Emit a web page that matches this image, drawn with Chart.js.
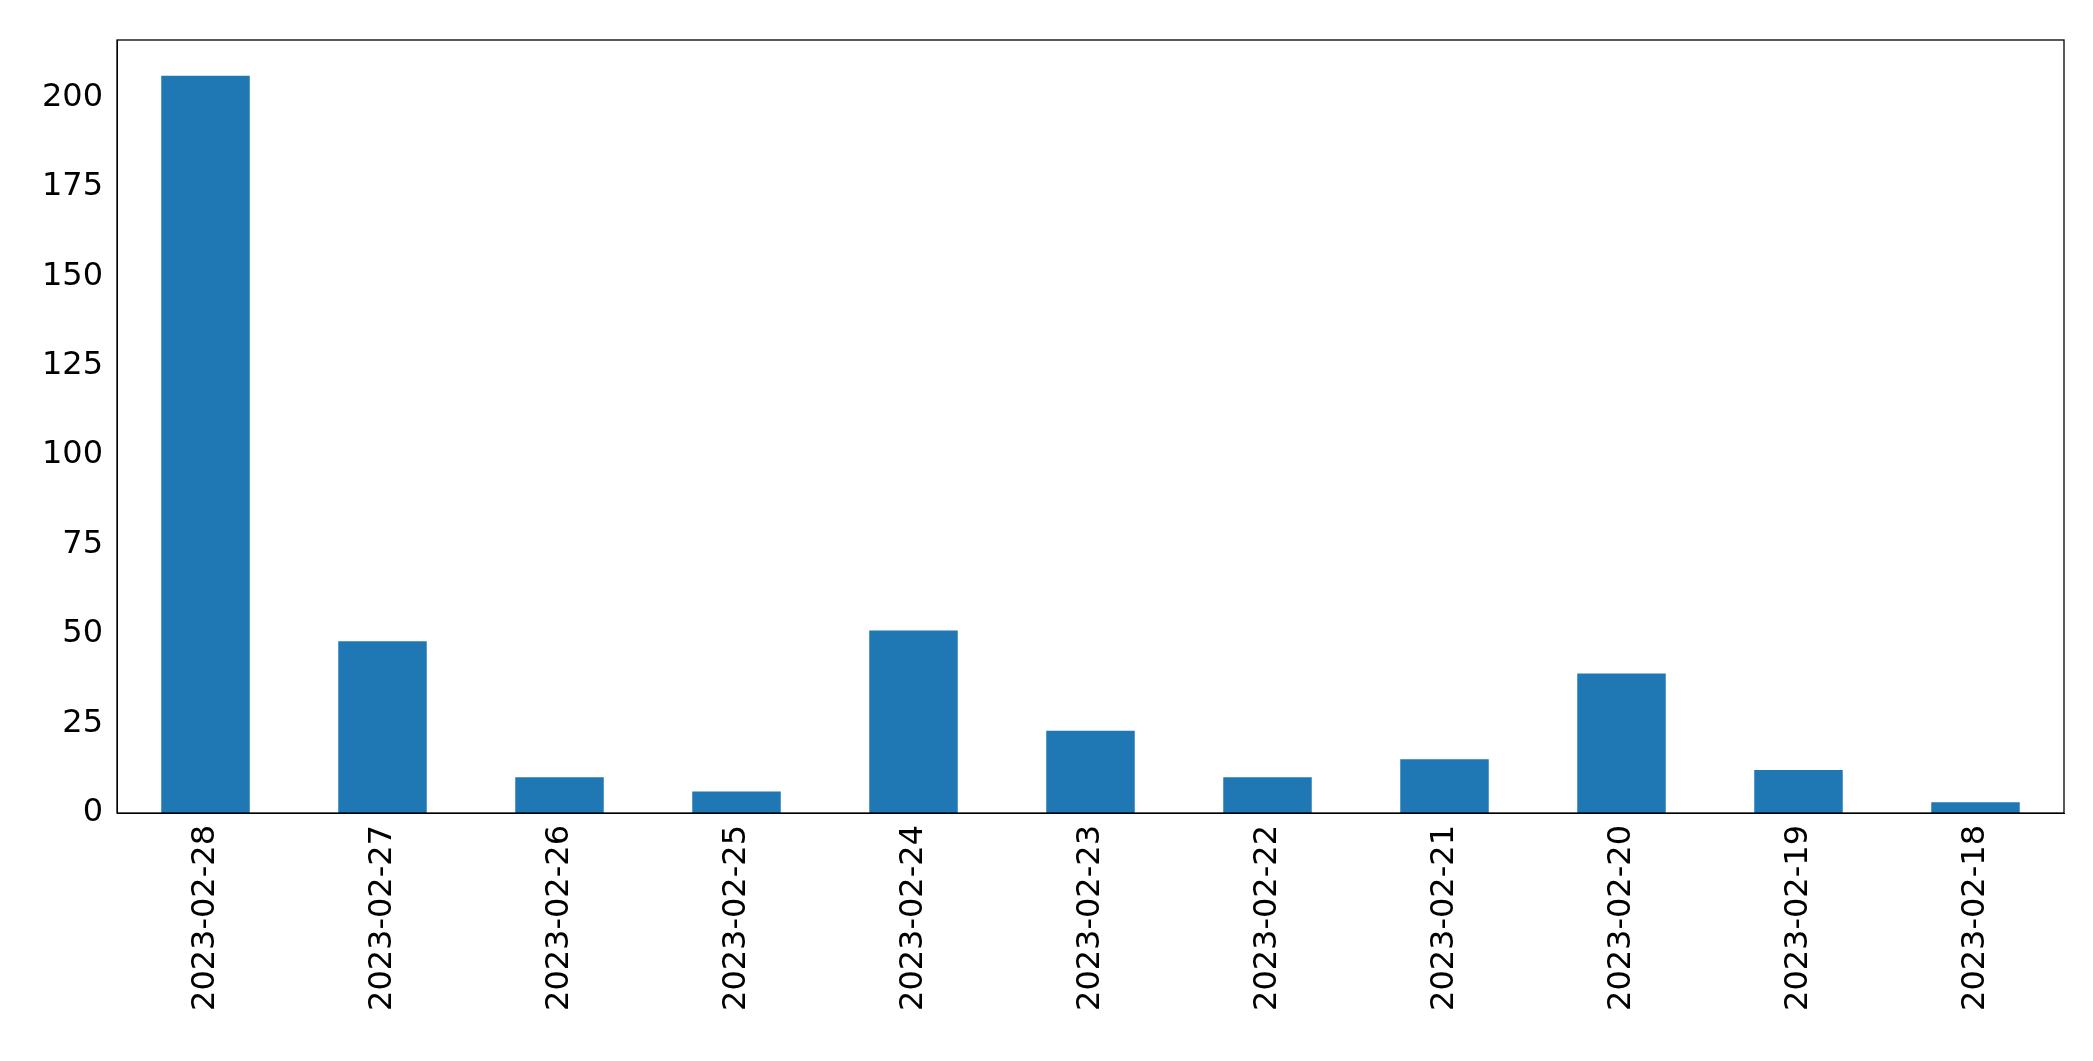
<!DOCTYPE html>
<html><head><meta charset="utf-8">
<script src="https://cdn.jsdelivr.net/npm/chart.js@4"></script>
<style>html,body{margin:0;padding:0;background:#fff}#w{width:2093px;height:1061px}</style>
</head><body><div id="w"><canvas id="c"></canvas></div>
<script>
const categories = ["2023-02-28","2023-02-27","2023-02-26","2023-02-25","2023-02-24","2023-02-23","2023-02-22","2023-02-21","2023-02-20","2023-02-19","2023-02-18"];
const values = [206, 48, 10, 6, 51, 23, 10, 15, 39, 12, 3];
const yTicks = [0, 25, 50, 75, 100, 125, 150, 175, 200];
const frame = {id:'frame', afterDraw(ch){const a=ch.chartArea,x=ch.ctx;x.save();x.strokeStyle='#000';x.lineWidth=1.3;x.strokeRect(a.left,a.top,a.right-a.left,a.bottom-a.top);x.restore();}};
Chart.defaults.font.family = "'DejaVu Sans'";
new Chart(document.getElementById('c'), {
  type:'bar',
  data:{labels:categories, datasets:[{data:values, backgroundColor:'#1f77b4', categoryPercentage:1, barPercentage:0.5}]},
  options:{
    responsive:true, maintainAspectRatio:false, animation:false,
    layout:{padding:{top:40,right:29,left:0,bottom:0}},
    plugins:{legend:{display:false}, tooltip:{enabled:false}},
    scales:{
      x:{offset:true, grid:{display:false, drawTicks:true, tickLength:8, color:'#000'}, border:{color:'#000'},
         ticks:{color:'#000', font:{size:32}, minRotation:90, maxRotation:90, padding:4},
         afterFit(s){s.height=248;}},
      y:{min:0, max:216, grid:{display:false, tickLength:8}, border:{color:'#000'},
         afterBuildTicks(s){s.ticks=yTicks.map(v=>({value:v}));},
         ticks:{color:'#000', font:{size:32}, padding:6},
         afterFit(s){s.width=117;}}
    }
  },
  plugins:[frame]
});
</script></body></html>
